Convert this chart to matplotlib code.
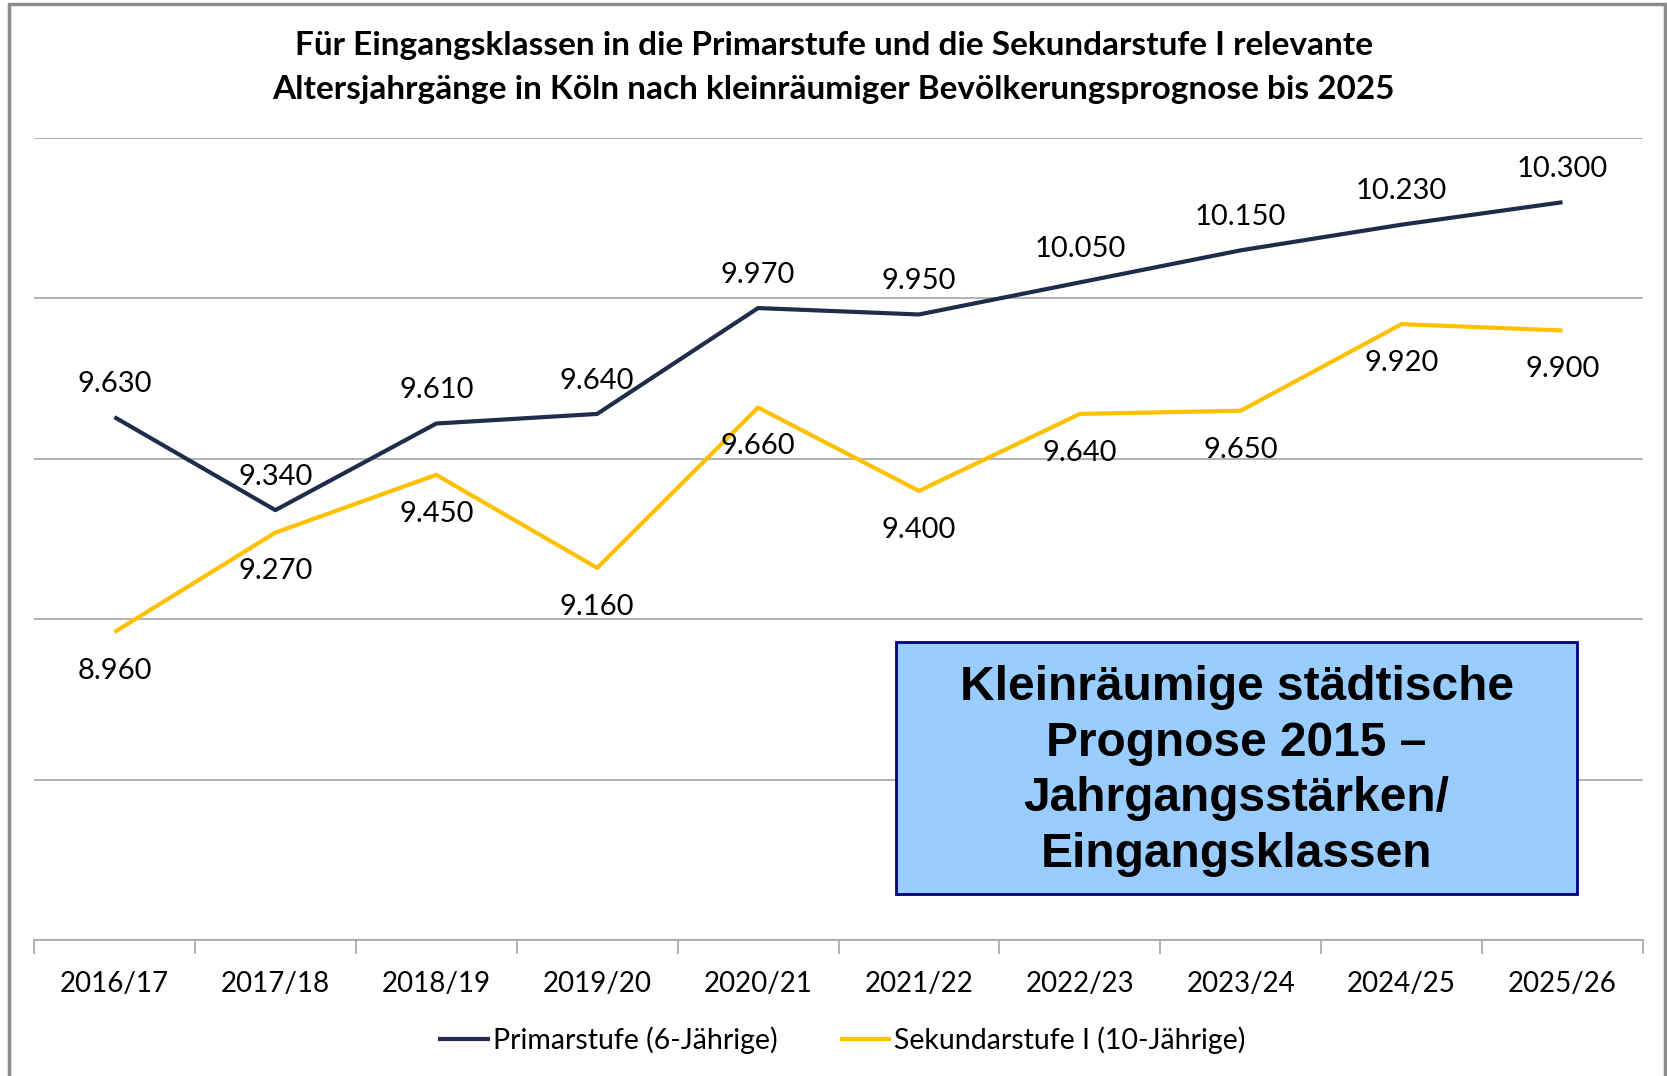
import matplotlib.pyplot as plt
from matplotlib.patches import Rectangle
import numpy as np

years = ["2016/17", "2017/18", "2018/19", "2019/20", "2020/21",
         "2021/22", "2022/23", "2023/24", "2024/25", "2025/26"]
primar = [9630, 9340, 9610, 9640, 9970, 9950, 10050, 10150, 10230, 10300]
sekundar = [8960, 9270, 9450, 9160, 9660, 9400, 9640, 9650, 9920, 9900]

navy = "#1f2d4a"
gold = "#ffc000"
font = "Lato"

fig = plt.figure(figsize=(16.67, 10.76), dpi=100)
ax = fig.add_axes([0.0204, 0.1264, 0.9652, 0.7453])

x = np.arange(len(years))
ax.plot(x, primar, color=navy, lw=3.0, label="Primarstufe (6-Jährige)", solid_capstyle="butt")
ax.plot(x, sekundar, color=gold, lw=3.0, label="Sekundarstufe I (10-Jährige)", solid_capstyle="butt")

def fmt(v):
    return f"{v:,}".replace(",", ".")

for i, v in enumerate(primar):
    ax.annotate(fmt(v), (i, v), xytext=(0, 24), textcoords="offset points",
                ha="center", va="center", fontsize=21, family=font)
for i, v in enumerate(sekundar):
    ax.annotate(fmt(v), (i, v), xytext=(0, -28), textcoords="offset points",
                ha="center", va="center", fontsize=21, family=font)

ax.set_xlim(-0.5, 9.5)
ax.set_ylim(8000, 10500)
ax.set_yticks(np.arange(8000, 10501, 500))
ax.yaxis.grid(True, color="#a6a6a6", lw=1.2)
ax.set_axisbelow(True)
ax.tick_params(axis="y", left=False, labelleft=False)
for s in ["top", "right", "left"]:
    ax.spines[s].set_visible(False)
ax.spines["bottom"].set_color("#a6a6a6")
ax.spines["bottom"].set_linewidth(1.2)

ax.set_xticks(x)
ax.set_xticklabels(years, fontsize=20, family=font)
ax.set_xticks(np.arange(-0.5, 10, 1), minor=True)
ax.tick_params(axis="x", which="major", length=0, pad=22)
ax.tick_params(axis="x", which="minor", length=10, color="#a6a6a6", width=1.2)

fig.text(0.5, 0.958, "Für Eingangsklassen in die Primarstufe und die Sekundarstufe I relevante",
         ha="center", va="center", fontsize=24, fontweight="bold", family=font)
fig.text(0.5, 0.917, "Altersjahrgänge in Köln nach kleinräumiger Bevölkerungsprognose bis 2025",
         ha="center", va="center", fontsize=24, fontweight="bold", family=font)

leg = fig.legend(loc="center", bbox_to_anchor=(0.505, 0.033), ncol=2, frameon=False,
                 prop={"family": font, "size": 20.5}, handlelength=1.8, handletextpad=0.1,
                 columnspacing=2.2)

# Info box
fig.patches.append(Rectangle((896 / 1667, 1 - 894 / 1076), 681 / 1667, 252 / 1076,
                             transform=fig.transFigure, facecolor="#99ccff",
                             edgecolor="#000080", lw=2, zorder=5))
fig.text((896 + 681 / 2) / 1667, 1 - 771 / 1076,
         "Kleinräumige städtische\nPrognose 2015 –\nJahrgangsstärken/\nEingangsklassen",
         ha="center", va="center", fontsize=34.5, fontweight="bold",
         family="Liberation Sans", linespacing=1.3, zorder=6)

# outer frame
fig.patches.append(Rectangle((9 / 1667, -0.01), 1656 / 1667, 1 - 4 / 1076 + 0.01,
                             transform=fig.transFigure, fill=False,
                             edgecolor="#8c8c8c", lw=2.5))

fig.savefig("out.png", dpi=100)
